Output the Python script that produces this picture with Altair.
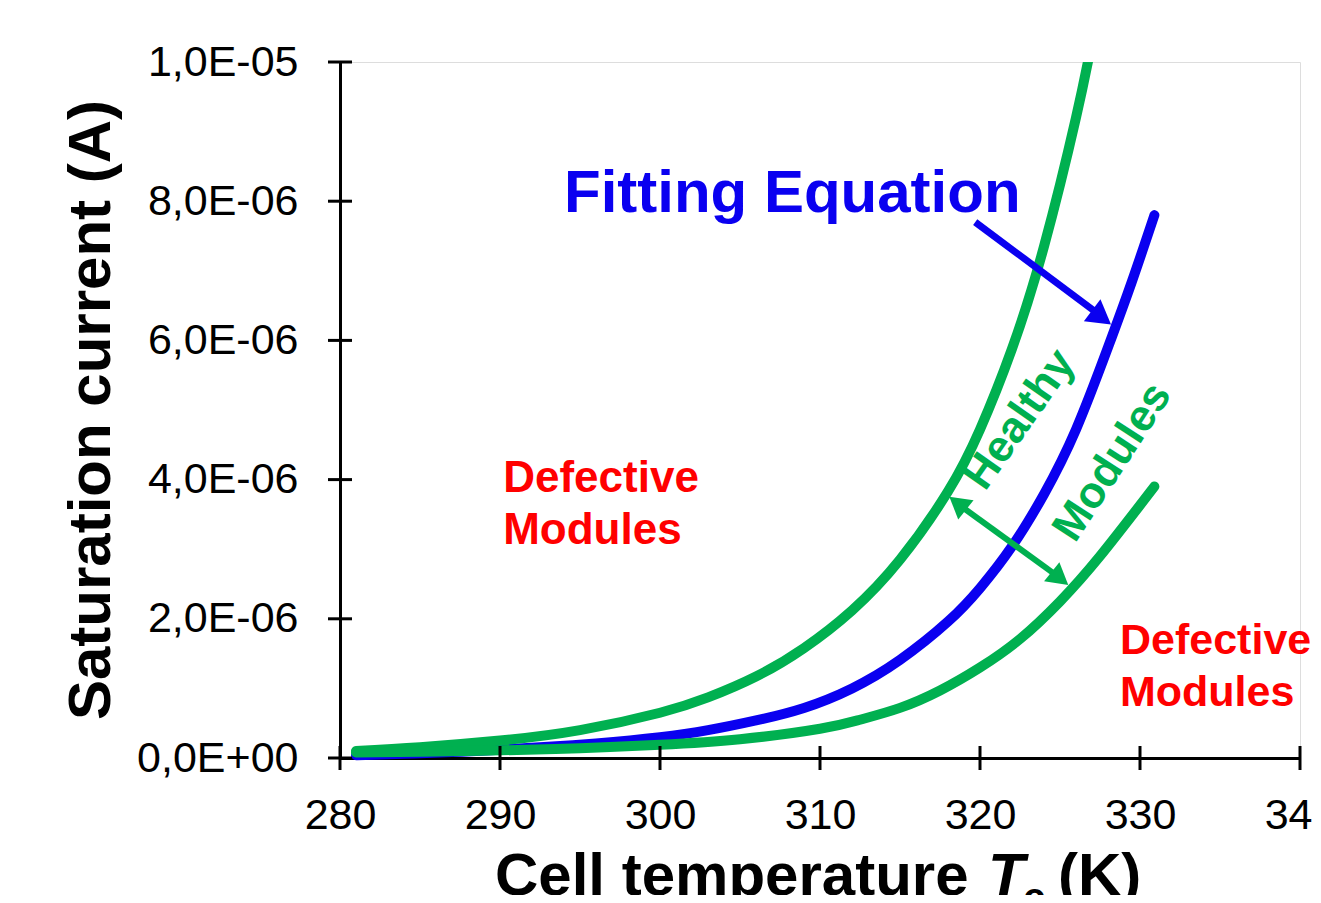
import altair as alt
import pandas as pd

# ---------------- data ----------------
# Saturation current in micro-amps (converted to A below)
upper_T = [281, 285, 290, 295, 300, 303, 306, 309, 312, 315, 318, 320, 322, 324, 326, 327]
upper_I = [0.10, 0.155, 0.25, 0.40, 0.65, 0.87, 1.17, 1.58, 2.12, 2.85, 3.83, 4.72, 5.88, 7.35, 9.20, 10.3]

fit_T = [281, 284, 287, 290, 293, 296, 300, 303, 306, 309, 312, 315, 318, 320, 322, 324, 326, 328, 329.5, 330.9]
fit_I = [0.04, 0.06, 0.085, 0.12, 0.16, 0.21, 0.30, 0.40, 0.54, 0.72, 1.00, 1.41, 1.96, 2.44, 3.04, 3.79, 4.72, 5.90, 6.85, 7.80]

lower_T = [281, 285, 290, 295, 300, 305, 310, 312.5, 315, 317.5, 320, 322.5, 325, 327.5, 330.9]
lower_I = [0.08, 0.09, 0.11, 0.14, 0.19, 0.27, 0.42, 0.55, 0.72, 0.97, 1.30, 1.71, 2.25, 2.90, 3.90]

x_ticks = [280, 290, 300, 310, 320, 330, 340]
y_ticks = [0, 2e-6, 4e-6, 6e-6, 8e-6, 1e-5]
y_tick_labels = ["0,0E+00", "2,0E-06", "4,0E-06", "6,0E-06", "8,0E-06", "1,0E-05"]

GREEN = "#00B050"
BLUE = "#0A00F0"
RED = "#FF0000"
FONT = "Liberation Sans"

def series(T, I, name):
    return pd.DataFrame({"T": T, "I": [v * 1e-6 for v in I], "s": name, "o": range(len(T))})

df_upper = series(upper_T, upper_I, "upper")
df_fit = series(fit_T, fit_I, "fit")
df_lower = series(lower_T, lower_I, "lower")

W, H = 960, 696
xs = alt.Scale(domain=[280, 340], nice=False, zero=False)
ys = alt.Scale(domain=[0, 1e-5], nice=False, zero=True)

label_expr = "[" + ",".join("'%s'" % s for s in y_tick_labels) + "][round(datum.value / 2e-6)]"

xaxis = alt.Axis(values=x_ticks, ticks=False, grid=False, domainColor="black", domainWidth=3,
                 labelFont=FONT, labelFontSize=43, labelColor="black", labelPadding=36,
                 labelFlush=False, labelOverlap=False, title=None, format="d")
yaxis = alt.Axis(values=y_ticks, ticks=False, grid=False, domainColor="black", domainWidth=3,
                 labelFont=FONT, labelFontSize=43, labelColor="black", labelPadding=42,
                 labelExpr=label_expr, labelFlush=False, labelOverlap=False, title=None)

def line(df, color, clip=False):
    return alt.Chart(df).mark_line(color=color, strokeWidth=10, strokeCap="round",
                                   interpolate="natural", clip=clip).encode(
        x=alt.X("T:Q", scale=xs, axis=xaxis),
        y=alt.Y("I:Q", scale=ys, axis=yaxis),
        order="o:Q",
    )

base_axes = line(df_fit, BLUE)
l_upper = line(df_upper, GREEN, clip=True)
l_lower = line(df_lower, GREEN)

# cross ticks
xt = alt.Chart(pd.DataFrame({"T": x_ticks})).mark_rule(color="black", strokeWidth=3).encode(
    x=alt.X("T:Q", scale=xs), y=alt.value(H - 12), y2=alt.value(H + 12))
yt = alt.Chart(pd.DataFrame({"I": y_ticks})).mark_rule(color="black", strokeWidth=3).encode(
    y=alt.Y("I:Q", scale=ys), x=alt.value(-12), x2=alt.value(12))

# arrows (annotation geometry in data coordinates)
arrow_blue = pd.DataFrame({"T": [319.7], "I": [7.70e-6], "T2": [327.4], "I2": [6.38e-6]})
arrow_blue_head = pd.DataFrame({"T": [327.6], "I": [6.33e-6]})
arrow_green = pd.DataFrame({"T": [318.8], "I": [3.62e-6], "T2": [324.8], "I2": [2.62e-6]})
arrow_green_heads = pd.DataFrame({"T": [318.6, 325.0], "I": [3.66e-6, 2.58e-6], "a": [218.7, 38.7]})

ab = alt.Chart(arrow_blue).mark_rule(color=BLUE, strokeWidth=7).encode(
    x=alt.X("T:Q", scale=xs), y=alt.Y("I:Q", scale=ys), x2="T2:Q", y2="I2:Q")
abh = alt.Chart(arrow_blue_head).mark_point(shape="triangle-right", filled=True, color=BLUE,
                                            size=750, opacity=1, angle=37.3).encode(
    x=alt.X("T:Q", scale=xs), y=alt.Y("I:Q", scale=ys))
ag = alt.Chart(arrow_green).mark_rule(color=GREEN, strokeWidth=6).encode(
    x=alt.X("T:Q", scale=xs), y=alt.Y("I:Q", scale=ys), x2="T2:Q", y2="I2:Q")
agh = alt.Chart(arrow_green_heads).mark_point(shape="triangle-right", filled=True, color=GREEN,
                                              size=600, opacity=1).encode(
    x=alt.X("T:Q", scale=xs), y=alt.Y("I:Q", scale=ys), angle=alt.Angle("a:Q", scale=None))

def txt(T, I, text, color, size, **kw):
    d = pd.DataFrame({"T": [T], "I": [I], "t": [text]})
    return alt.Chart(d).mark_text(color=color, fontSize=size, font=FONT, fontWeight="bold", **kw).encode(
        x=alt.X("T:Q", scale=xs), y=alt.Y("I:Q", scale=ys), text="t:N")

t_fit = txt(294.0, 7.84e-6, "Fitting Equation", BLUE, 60, align="left", baseline="alphabetic")
t_def1 = txt(290.2, 3.82e-6, ["Defective", "Modules"], RED, 44, align="left", baseline="alphabetic", lineHeight=52)
t_def2 = txt(328.75, 1.49e-6, ["Defective", "Modules"], RED, 43, align="left", baseline="alphabetic", lineHeight=52)
t_healthy = txt(322.5, 4.86e-6, "Healthy", GREEN, 44, align="center", baseline="middle", angle=305)
t_modules = txt(328.3, 4.25e-6, "Modules", GREEN, 44, align="center", baseline="middle", angle=303)

# axis titles (outside the plot, pixel positions)
def ptxt(x, y, text, size, **kw):
    return alt.Chart(pd.DataFrame({"t": [text]})).mark_text(
        color="black", fontSize=size, font=FONT, fontWeight="bold", **kw).encode(
        x=alt.value(x), y=alt.value(y), text="t:N")

title_y = ptxt(-230, 348, "Saturation current (A)", 60, angle=270, align="center", baseline="alphabetic")
tx1 = ptxt(155, 833, "Cell temperature", 60, align="left", baseline="alphabetic")
tx2 = ptxt(648, 833, "T", 60, align="left", baseline="alphabetic", fontStyle="italic")
tx3 = ptxt(683, 849, "c", 40, align="left", baseline="alphabetic")
tx4 = ptxt(718, 833, "(K)", 60, align="left", baseline="alphabetic")

chart = alt.layer(
    base_axes, l_upper, l_lower, xt, yt, ab, abh, ag, agh,
    t_fit, t_def1, t_def2, t_healthy, t_modules,
    title_y, tx1, tx2, tx3, tx4,
).properties(
    width=W, height=H,
    autosize=alt.AutoSizeParams(type="none"),
    padding={"left": 332, "top": 54, "right": 13, "bottom": 137},
).configure_view(stroke=None).configure(background="white")

chart.save("out.html", embed_options={"renderer": "svg", "actions": False})
